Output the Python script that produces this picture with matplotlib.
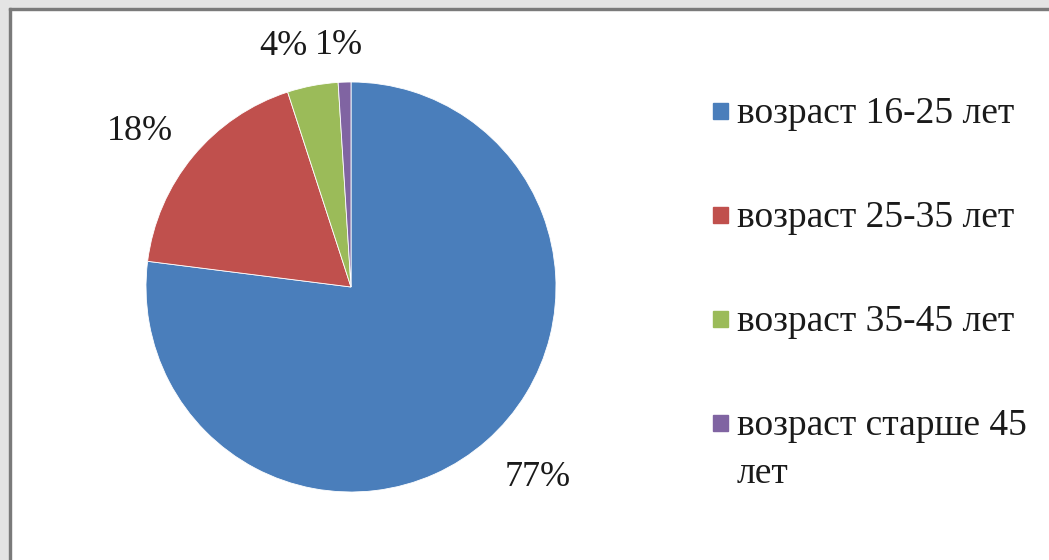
import numpy as np
import matplotlib.pyplot as plt
from matplotlib.patches import Rectangle

plt.rcParams['font.family'] = ['Liberation Serif', 'DejaVu Serif']

# age groups of respondents
labels = ['возраст 16-25 лет', 'возраст 25-35 лет', 'возраст 35-45 лет', 'возраст старше 45\nлет']
shares = [77, 18, 4, 1]
colors = ['#4a7ebb', '#c0504d', '#9bbb59', '#8064a2']

W, H = 1049, 560
fig = plt.figure(figsize=(W / 100, H / 100), dpi=100)
fig.patch.set_facecolor('white')

# grey frame on top/left (screenshot border)
fig.patches.append(Rectangle((0, 0), 9 / W, 1, transform=fig.transFigure, color='#e4e4e4', zorder=0))
fig.patches.append(Rectangle((0, 1 - 8 / H), 1, 8 / H, transform=fig.transFigure, color='#e4e4e4', zorder=0))
fig.patches.append(Rectangle((9 / W, 0), 2 / W, 1 - 8 / H, transform=fig.transFigure, color='#7a7a7a', zorder=1))
fig.patches.append(Rectangle((9 / W, 1 - 10 / H), 1 - 9 / W, 2 / H, transform=fig.transFigure, color='#7a7a7a', zorder=1))

cx, cy, r = 351, 560 - 287, 205
ax = fig.add_axes([(cx - r) / W, (cy - r) / H, 2 * r / W, 2 * r / H])
wedges, _ = ax.pie(shares, colors=colors, startangle=90, counterclock=False,
                   radius=1, wedgeprops=dict(edgecolor='white', linewidth=0.6))
ax.set_xlim(-1, 1)
ax.set_ylim(-1, 1)
ax.set_aspect('equal')
ax.axis('off')

# percentage labels outside the pie
lab_dist = [1.30, 1.28, 1.22, 1.18]
lab_shift = [3.0, 3.3, 5.0, 1.1]
for w, s, d, sh in zip(wedges, shares, lab_dist, lab_shift):
    ang = np.deg2rad((w.theta1 + w.theta2) / 2 + sh)
    ax.text(d * np.cos(ang), d * np.sin(ang), '{}%'.format(s), fontsize=26,
            ha='center', va='center', color='#1a1a1a')

# legend on the right
rows_y = [111, 215, 319, 423]
for lab, c, y in zip(labels, colors, rows_y):
    fig.patches.append(Rectangle((713 / W, 1 - (y + 8) / H), 15 / W, 16 / H,
                                 transform=fig.transFigure, color=c))
    for k, line in enumerate(lab.split('\n')):
        fig.text(737 / W, 1 - (y + 12 + 48 * k) / H, line, fontsize=27,
                 ha='left', va='baseline', color='#1a1a1a')

fig.savefig('out.png', dpi=100)
